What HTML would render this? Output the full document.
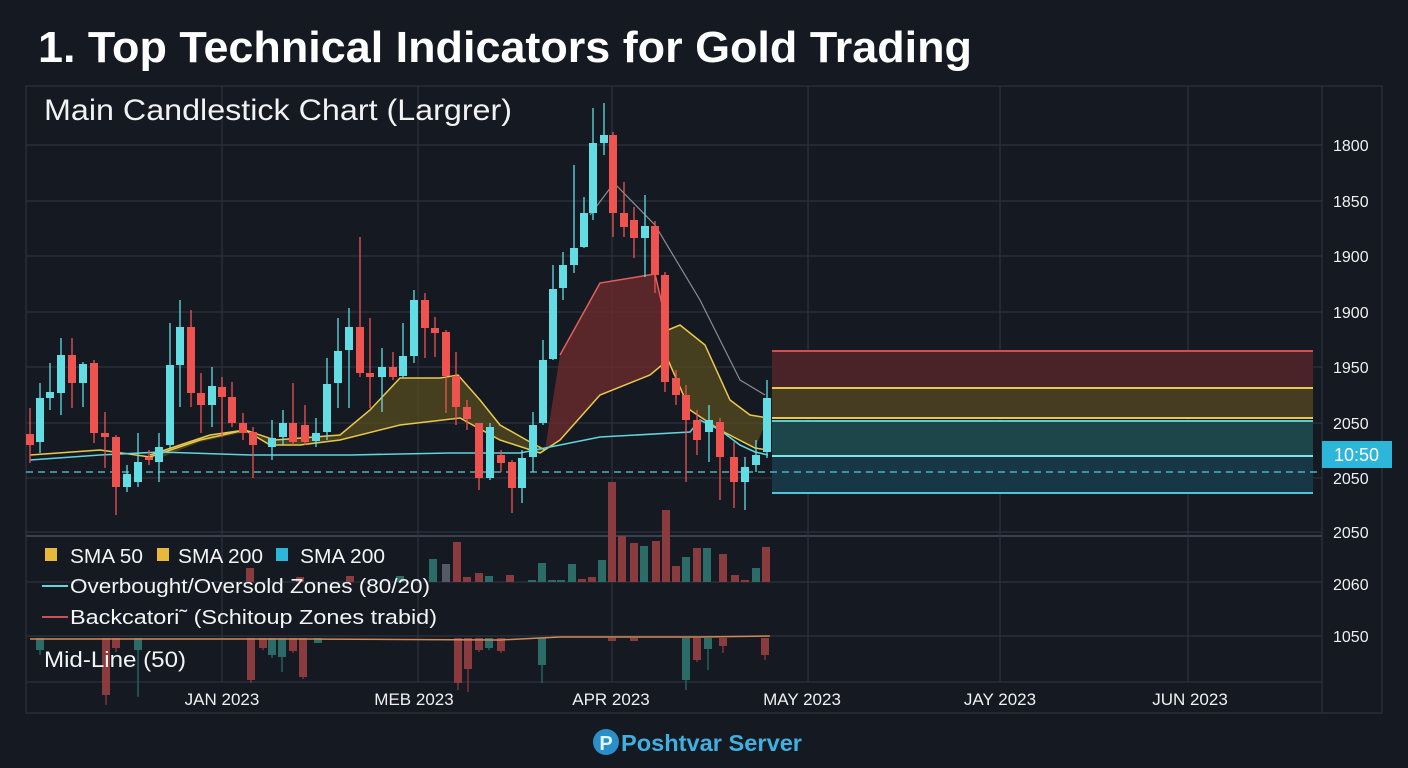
<!DOCTYPE html>
<html><head><meta charset="utf-8"><style>
html,body{margin:0;padding:0;background:#141922;}
body{width:1408px;height:768px;overflow:hidden;font-family:"Liberation Sans",sans-serif;}
</style></head><body>
<svg id="s" width="1408" height="768" xmlns="http://www.w3.org/2000/svg" style="position:absolute;left:0;top:0">
<rect width="1408" height="768" fill="#141922"/>
<text x="38" y="62" fill="#ffffff" font-size="44" font-weight="bold" textLength="934" lengthAdjust="spacingAndGlyphs" font-family="Liberation Sans, sans-serif">1. Top Technical Indicators for Gold Trading</text>
<g stroke="#2d333e" stroke-width="1.2" fill="none">
<rect x="26" y="86" width="1356" height="627"/>
<line x1="1322" y1="86" x2="1322" y2="713"/>
<line x1="26" y1="145" x2="1322" y2="145"/><line x1="26" y1="201" x2="1322" y2="201"/>
<line x1="26" y1="256" x2="1322" y2="256"/><line x1="26" y1="312" x2="1322" y2="312"/>
<line x1="26" y1="367" x2="1322" y2="367"/><line x1="26" y1="423" x2="1322" y2="423"/>
<line x1="26" y1="478" x2="1322" y2="478"/><line x1="26" y1="532" x2="1322" y2="532"/>
<line x1="26" y1="536" x2="1322" y2="536" stroke="#3a414c" stroke-width="2"/>
<line x1="26" y1="582" x2="1322" y2="582"/><line x1="26" y1="636" x2="1322" y2="636"/>
<line x1="26" y1="682" x2="1322" y2="682"/>
<line x1="222" y1="86" x2="222" y2="682"/><line x1="418" y1="86" x2="418" y2="682"/>
<line x1="612" y1="86" x2="612" y2="682"/><line x1="808" y1="86" x2="808" y2="682"/>
<line x1="1000" y1="86" x2="1000" y2="682"/><line x1="1188" y1="86" x2="1188" y2="682"/>
</g>
<text x="44" y="120" fill="#f2f2f2" font-size="30" textLength="468" lengthAdjust="spacingAndGlyphs">Main Candlestick Chart (Largrer)</text>
<!-- zones -->
<rect x="772" y="351" width="541" height="37" fill="#4a2329"/>
<line x1="772" y1="351" x2="1313" y2="351" stroke="#d0504f" stroke-width="2"/>
<rect x="772" y="388" width="541" height="30" fill="#463c22"/>
<line x1="772" y1="388" x2="1313" y2="388" stroke="#e8c94c" stroke-width="2"/>
<line x1="772" y1="418" x2="1313" y2="418" stroke="#e8c94c" stroke-width="2"/>
<rect x="772" y="421" width="541" height="35" fill="#1c4649"/>
<line x1="772" y1="421" x2="1313" y2="421" stroke="#5fc9d0" stroke-width="2"/>
<rect x="772" y="456" width="541" height="37" fill="#173646"/>
<line x1="772" y1="456" x2="1313" y2="456" stroke="#7fe3ea" stroke-width="2"/>
<line x1="772" y1="493" x2="1313" y2="493" stroke="#4fc2dc" stroke-width="2"/>
<line x1="26" y1="472" x2="1322" y2="472" stroke="#4fb0b5" stroke-width="1.6" stroke-dasharray="7,5"/>
<!-- fills -->
<path d="M545,450 L560,355 L600,283 L655,274 L668,330 L668,362 L650,375 L600,395 L560,440 Z" fill="#6a2a2d" opacity="0.8"/>
<path d="M560,355 L600,283 L655,274 L668,330" stroke="#e0605a" stroke-width="1.5" fill="none"/>
<path d="M150,455 L210,435 L245,430 L275,440 L340,435 L370,410 L400,378 L440,378 L458,375 L480,400 L500,425 L530,442 L545,450 L540,453 L500,440 L460,418 L400,425 L340,440 L300,445 L270,445 L245,432 L200,442 L160,458 Z" fill="#5a5020" opacity="0.7"/>
<path d="M668,362 L668,330 L680,325 L705,345 L730,400 L750,415 L768,418 L755,448 L720,430 L690,410 Z" fill="#5a5020" opacity="0.7"/>
<path d="M30,455 L100,450 L150,457 L200,440 L245,430 L270,445 L300,445 L340,440 L400,425 L460,418 L500,440 L540,453 L560,440 L600,395 L650,375 L668,360 L690,410 L720,430 L755,448 L768,450" stroke="#e8c94c" stroke-width="1.5" fill="none"/>
<path d="M150,455 L210,435 L245,430 L275,440 L340,435 L370,410 L400,378 L440,378 L458,375 L480,400 L500,425 L530,442 L545,450" stroke="#e8c94c" stroke-width="1.5" fill="none"/>
<path d="M668,330 L680,325 L705,345 L730,400 L750,415 L768,418" stroke="#e8c94c" stroke-width="1.5" fill="none"/>
<path d="M30,460 L100,455 L160,452 L250,455 L350,455 L450,453 L520,453 L545,448 L600,437 L690,432 L700,420 L720,430 L740,445 L755,452 L768,455" stroke="#62d4dc" stroke-width="1.6" fill="none"/>
<path d="M590,215 L614,183 L655,225 L700,300 L740,380 L765,395" stroke="#8a8f98" stroke-width="1.2" fill="none"/>
<g id="c"></g>
<g id="v"></g>
<!-- labels -->
<g fill="#f0f0f0" font-size="16">
<text x="1333" y="151">1800</text><text x="1333" y="207">1850</text><text x="1333" y="262">1900</text>
<text x="1333" y="318">1900</text><text x="1333" y="373">1950</text><text x="1333" y="429">2050</text>
<text x="1333" y="484">2050</text><text x="1333" y="538">2050</text><text x="1333" y="590">2060</text>
<text x="1333" y="642">1050</text>
</g>
<rect x="1322" y="441" width="70" height="27" fill="#2bb6da"/>
<text x="1334" y="461" fill="#ffffff" font-size="18">10:50</text>
<g fill="#f0f0f0" font-size="17" text-anchor="middle">
<text x="222" y="705">JAN 2023</text><text x="414" y="705">MEB 2023</text><text x="611" y="705">APR 2023</text>
<text x="802" y="705">MAY 2023</text><text x="1000" y="705">JAY 2023</text><text x="1190" y="705">JUN 2023</text>
</g>
<g fill="#f4f4f4" font-size="20">
<rect x="45" y="548" width="12" height="13" fill="#e8b83c"/><text x="70" y="563" textLength="73" lengthAdjust="spacingAndGlyphs">SMA 50</text>
<rect x="157" y="548" width="12" height="13" fill="#e8b83c"/><text x="178" y="563" textLength="85" lengthAdjust="spacingAndGlyphs">SMA 200</text>
<rect x="276" y="548" width="12" height="13" fill="#2bb6da"/><text x="300" y="563" textLength="85" lengthAdjust="spacingAndGlyphs">SMA 200</text>
<line x1="42" y1="586" x2="68" y2="586" stroke="#62d4dc" stroke-width="2"/><text x="70" y="593" textLength="360" lengthAdjust="spacingAndGlyphs">Overbought/Oversold Zones (80/20)</text>
<line x1="42" y1="617" x2="68" y2="617" stroke="#d0504f" stroke-width="2"/><text x="70" y="624" textLength="367" lengthAdjust="spacingAndGlyphs">Backcatori˜ (Schitoup Zones trabid)</text>
<text x="44" y="667" font-size="22" textLength="142" lengthAdjust="spacingAndGlyphs">Mid-Line (50)</text>
</g>
<circle cx="606" cy="742" r="13" fill="#2a8fc8"/>
<text x="606" y="750" fill="#dff4ff" font-size="20" font-weight="bold" text-anchor="middle">P</text>
<text x="621" y="751" fill="#3fb0e0" font-size="23" font-weight="bold" textLength="181" lengthAdjust="spacingAndGlyphs">Poshtvar Server</text>
</svg>
<script>
var C=[[30,'r',434,445,408,463],[40,'c',398,442,383,453],[50,'c',392,398,363,410],[61,'c',355,393,338,415],[72,'r',355,383,338,408],[83,'c',364,383,362,407],[94,'r',363,433,360,443],[105,'r',433,437,412,468],[116,'r',437,487,435,515],[127,'c',474,487,465,492],[138,'c',462,482,433,487],[149,'r',457,460,450,465],[159,'c',447,462,433,482],[170,'c',365,445,323,448],[180,'c',327,365,300,407],[191,'r',327,393,310,407],[201,'r',393,405,373,433],[212,'c',386,405,367,427],[222,'r',387,397,377,437],[232,'r',397,423,382,427],[243,'r',423,433,413,440],[253,'r',432,445,427,478],[272,'c',438,447,420,460],[283,'c',423,437,410,445],[293,'r',423,442,383,445],[305,'r',425,442,405,445],[316,'c',433,441,418,447],[327,'c',384,432,358,440],[338,'c',351,383,318,408],[349,'c',327,350,308,408],[360,'r',327,373,237,377],[370,'r',373,377,318,408],[382,'c',367,377,348,412],[393,'r',367,377,352,380],[403,'c',356,376,323,378],[414,'c',300,356,290,363],[425,'r',300,328,293,358],[435,'r',328,333,317,357],[446,'r',332,376,330,413],[456,'r',376,407,352,425],[467,'r',407,419,400,430],[479,'r',423,478,423,490],[490,'c',427,478,423,480],[501,'r',455,463,450,472],[512,'r',462,488,460,513],[522,'c',458,488,450,503],[533,'c',425,457,412,472],[543,'c',360,423,340,425],[553,'c',289,359,265,360],[563,'c',265,288,252,300],[574,'c',248,265,165,273],[584,'c',213,247,197,248],[593,'c',143,213,108,220],[604,'c',135,143,103,155],[613,'r',135,213,132,237],[624,'r',213,227,182,237],[634,'r',220,238,207,258],[645,'c',226,238,195,277],[655,'r',226,275,221,293],[665,'r',275,382,272,392],[676,'r',378,395,370,405],[686,'r',395,420,385,482],[697,'r',420,440,410,455],[709,'c',420,432,405,462],[720,'r',422,457,418,500],[734,'r',457,482,442,508],[745,'c',467,482,457,510],[756,'c',455,465,440,472],[767,'c',398,452,380,458]];
var g=document.getElementById('c'),h='';
C.forEach(function(d){var col=d[1]=='c'?'#62dde4':'#ef5350';
h+='<line x1="'+d[0]+'" y1="'+d[4]+'" x2="'+d[0]+'" y2="'+d[5]+'" stroke="'+col+'" stroke-width="1.3"/>';
h+='<rect x="'+(d[0]-4)+'" y="'+d[2]+'" width="8" height="'+Math.max(2,d[3]-d[2])+'" fill="'+col+'"/>';});
g.innerHTML=h;
var V=[[433,'t',559],[446,'g',564],[457,'r',542],[467,'r',577],[479,'r',573],[489,'t',576],[510,'r',575],[532,'t',580],[542,'t',563],[552,'t',580],[561,'t',580],[572,'t',564],[582,'r',579],[592,'r',577],[602,'t',560],[612,'r',482],[622,'r',536],[634,'r',543],[644,'t',546],[656,'r',541],[666,'r',510],[676,'r',566],[686,'t',557],[697,'r',548],[707,'t',548],[723,'r',554],[735,'r',575],[745,'r',580],[756,'t',568],[766,'r',547],[250,'r',568],[300,'r',577],[350,'r',576],[400,'t',576]];
var M=[[40,'t',650,655],[106,'r',695,705],[116,'r',648,652],[138,'t',650,697],[251,'r',680,683],[263,'r',648,650],[272,'t',655,658],[282,'t',657,672],[293,'r',651,653],[303,'r',677,679],[318,'t',643,643],[458,'r',683,690],[468,'r',669,692],[479,'r',650,652],[489,'t',648,650],[501,'r',651,653],[542,'t',665,683],[612,'r',641,641],[634,'r',641,641],[686,'t',680,690],[697,'r',660,662],[708,'t',649,670],[723,'r',646,653],[765,'r',655,660]];
var vg=document.getElementById('v'),k='';
function col(c){return c=='r'?'#8a3b3d':(c=='t'?'#2b6b68':'#555b66');}
V.forEach(function(d){k+='<rect x="'+(d[0]-4)+'" y="'+d[2]+'" width="8" height="'+(582-d[2])+'" fill="'+col(d[1])+'"/>';});
M.forEach(function(d){k+='<line x1="'+d[0]+'" y1="638" x2="'+d[0]+'" y2="'+d[3]+'" stroke="'+col(d[1])+'" stroke-width="1.3"/><rect x="'+(d[0]-4)+'" y="638" width="8" height="'+(d[2]-638)+'" fill="'+col(d[1])+'"/>';});
k+='<path d="M30,639 L300,639 L500,640 L560,637 L700,637 L770,636" stroke="#d08a5a" stroke-width="1.5" fill="none"/>';
vg.innerHTML=k;
</script>
</body></html>
